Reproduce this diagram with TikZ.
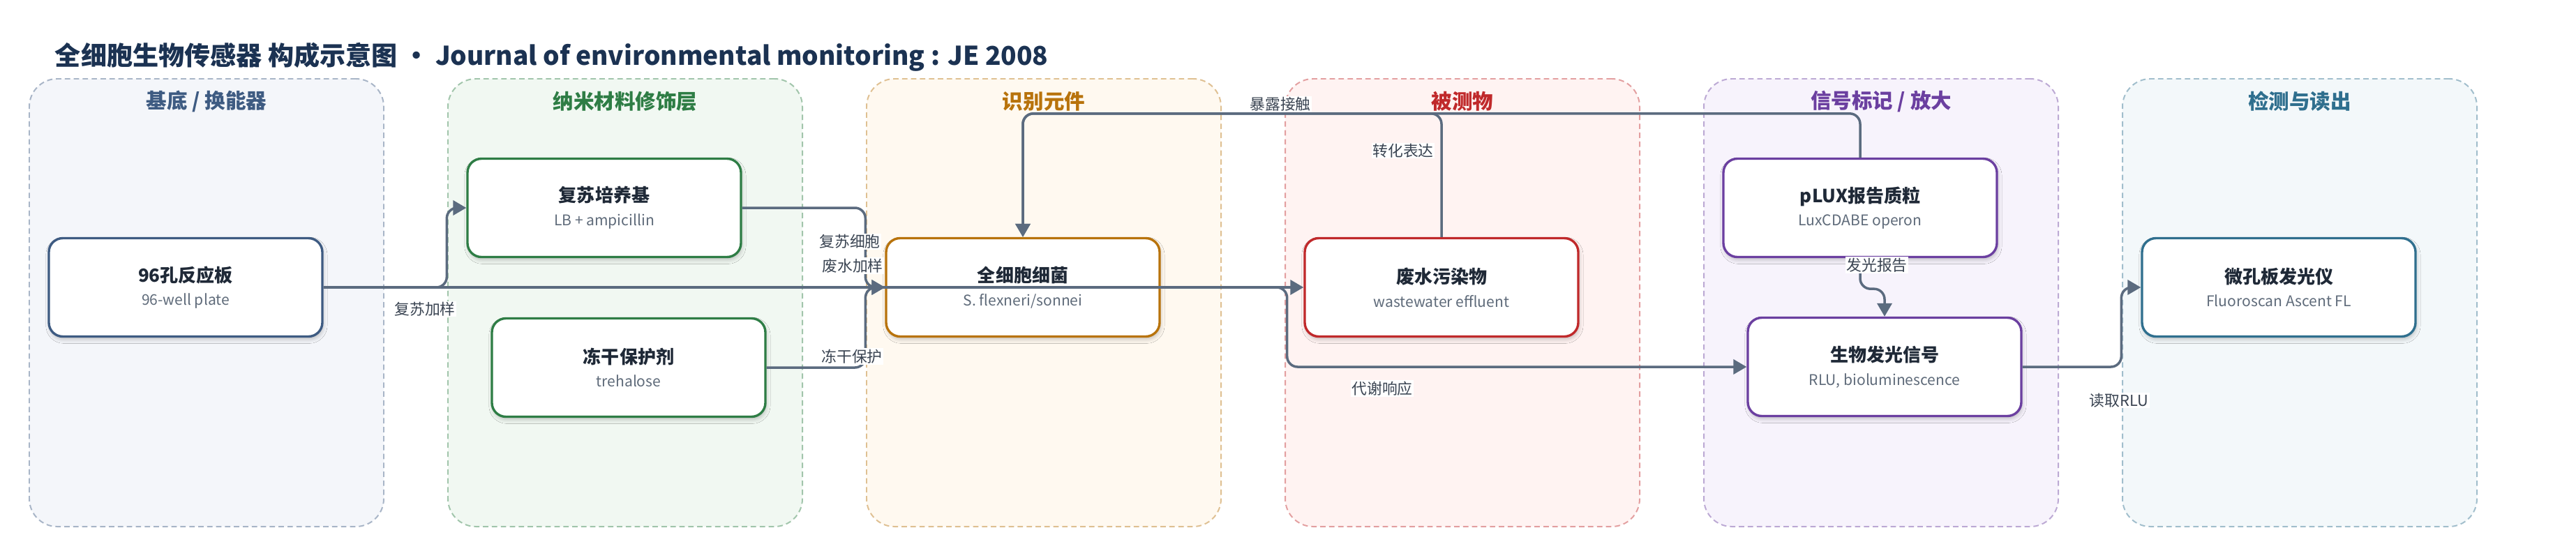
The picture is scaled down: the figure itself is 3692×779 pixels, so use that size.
\documentclass[tikz,border=0pt]{standalone}
\usepackage{fontspec}
\setmainfont{Noto Sans CJK SC}
\usetikzlibrary{arrows.meta,shadows.blur}

\definecolor{ttl}{HTML}{1B3252}
\definecolor{ink}{HTML}{1F2937}
\definecolor{sub}{HTML}{5F6B7A}
\definecolor{lnk}{HTML}{5B6B7F}
\definecolor{lbltxt}{HTML}{3A4452}
\definecolor{cbase}{HTML}{3E5B82}
\definecolor{cnano}{HTML}{2E7D45}
\definecolor{crec}{HTML}{B8730C}
\definecolor{cana}{HTML}{C0292B}
\definecolor{csig}{HTML}{6B3FA0}
\definecolor{cdet}{HTML}{2F6F8E}
\definecolor{fbase}{HTML}{F4F6FA}
\definecolor{fnano}{HTML}{F1F8F2}
\definecolor{frec}{HTML}{FFF9F0}
\definecolor{fana}{HTML}{FFF3F2}
\definecolor{fsig}{HTML}{F7F3FC}
\definecolor{fdet}{HTML}{F3F8FA}

\newcommand\bxt[2]{{\bfseries\fontsize{18.5pt}{24pt}\selectfont #1}\\{\color{sub}#2}}

\tikzset{
    panel/.style 2 args = {draw=#1!45,fill=#2,line width=1.4pt,dash pattern=on 5.5pt off 3.6pt,
                    rounded corners=10mm,minimum width=127mm,minimum height=160.5mm},
    ptitle/.style = {text=#1,font=\bfseries\fontsize{21pt}{24pt}\selectfont},
    box/.style = {draw=#1,fill=white,line width=2.4pt,rounded corners=5mm,
                  minimum width=98mm,minimum height=35.25mm,align=center,text=ink,
                  font=\fontsize{15pt}{24pt}\selectfont,
                  blur shadow={shadow xshift=1pt,shadow yshift=-3pt,shadow blur radius=4pt,shadow opacity=22}},
    link/.style = {draw=lnk,line width=2.5pt,rounded corners=3.75mm,-{Triangle[length=13.5pt,width=15pt]}},
    lbl/.style = {fill=white,text=lbltxt,inner sep=1pt,font=\fontsize{15.5pt}{18pt}\selectfont}
}

\begin{document}
\begin{tikzpicture}[x=0.25mm,y=-0.25mm]
                \useasboundingbox [fill=white] (0,0) rectangle (3692,779);
                \node [panel={cbase}{fbase}] (pbase) at (296,434) {};
                \node [panel={cnano}{fnano}] (pnano) at (896,434) {};
                \node [panel={crec}{frec}]   (prec)  at (1496,434) {};
                \node [panel={cana}{fana}]   (pana)  at (2096,434) {};
                \node [panel={csig}{fsig}]   (psig)  at (2696,434) {};
                \node [panel={cdet}{fdet}]   (pdet)  at (3296,434) {};
                \node [ptitle=cbase] (tbase) at (296,145) {基底 / 换能器};
                \node [ptitle=cnano] (tnano) at (896,145) {纳米材料修饰层};
                \node [ptitle=crec]  (trec)  at (1496,145) {识别元件};
                \node [ptitle=cana]  (tana)  at (2096,145) {被测物};
                \node [ptitle=csig]  (tsig)  at (2696,145) {信号标记 / 放大};
                \node [ptitle=cdet]  (tdet)  at (3296,145) {检测与读出};
                \node [anchor=west,text=ttl,font=\bfseries\fontsize{26.4pt}{30pt}\selectfont] (title) at (74,82)
                    {全细胞生物传感器 构成示意图 • Journal of environmental monitoring : JE 2008};

                \node [box=cbase] (plate)   at (266,412)  {\bxt{96孔反应板}{96-well plate}};
                \node [box=cnano] (medium)  at (866,298)  {\bxt{复苏培养基}{LB + ampicillin}};
                \node [box=cnano] (protect) at (901,527)  {\bxt{冻干保护剂}{trehalose}};
                \node [box=crec]  (cell)    at (1466,412) {\bxt{全细胞细菌}{S. flexneri/sonnei}};
                \node [box=cana]  (waste)   at (2066,412) {\bxt{废水污染物}{wastewater effluent}};
                \node [box=csig]  (plux)    at (2666,298) {\bxt{pLUX报告质粒}{LuxCDABE operon}};
                \node [box=csig]  (lum)     at (2701,526) {\bxt{生物发光信号}{RLU, bioluminescence}};
                \node [box=cdet]  (reader)  at (3266,412) {\bxt{微孔板发光仪}{Fluoroscan Ascent FL}};

                \draw [link] (plate.east) -| ([xshift=-7mm]medium.west) -- (medium.west);
                \draw [link] (plate.east) -- (waste.west);
                \draw [link] (medium.east) -| ([xshift=-7mm]cell.west) -- (cell.west);
                \draw [link] (protect.east) -| ([xshift=-7mm]cell.west) -- (cell.west);
                \draw [link] (waste.north) -- ++(0,-177) -| (cell.north);
                \draw [link] (plux.north) -- ++(0,-63) -| (cell.north);
                \draw [link] (cell.east) -- ++(181,0) |- (lum.west);
                \draw [link] (plux.south) -- ++(0,44) -| (lum.north);
                \draw [link] (lum.east) -| ([xshift=-7mm]reader.west) -- (reader.west);

                \node [lbl] (l1) at (609,443)  {复苏加样};
                \node [lbl] (l2) at (1218,346) {复苏细胞};
                \node [lbl] (l3) at (1222,381) {废水加样};
                \node [lbl] (l4) at (1221,511) {冻干保护};
                \node [lbl] (l5) at (1835,149) {暴露接触};
                \node [lbl] (l6) at (2011,216) {转化表达};
                \node [lbl] (l7) at (1981,557) {代谢响应};
                \node [lbl] (l8) at (2690,380) {发光报告};
                \node [lbl] (l9) at (3037,574) {读取RLU};
\end{tikzpicture}
\end{document}
